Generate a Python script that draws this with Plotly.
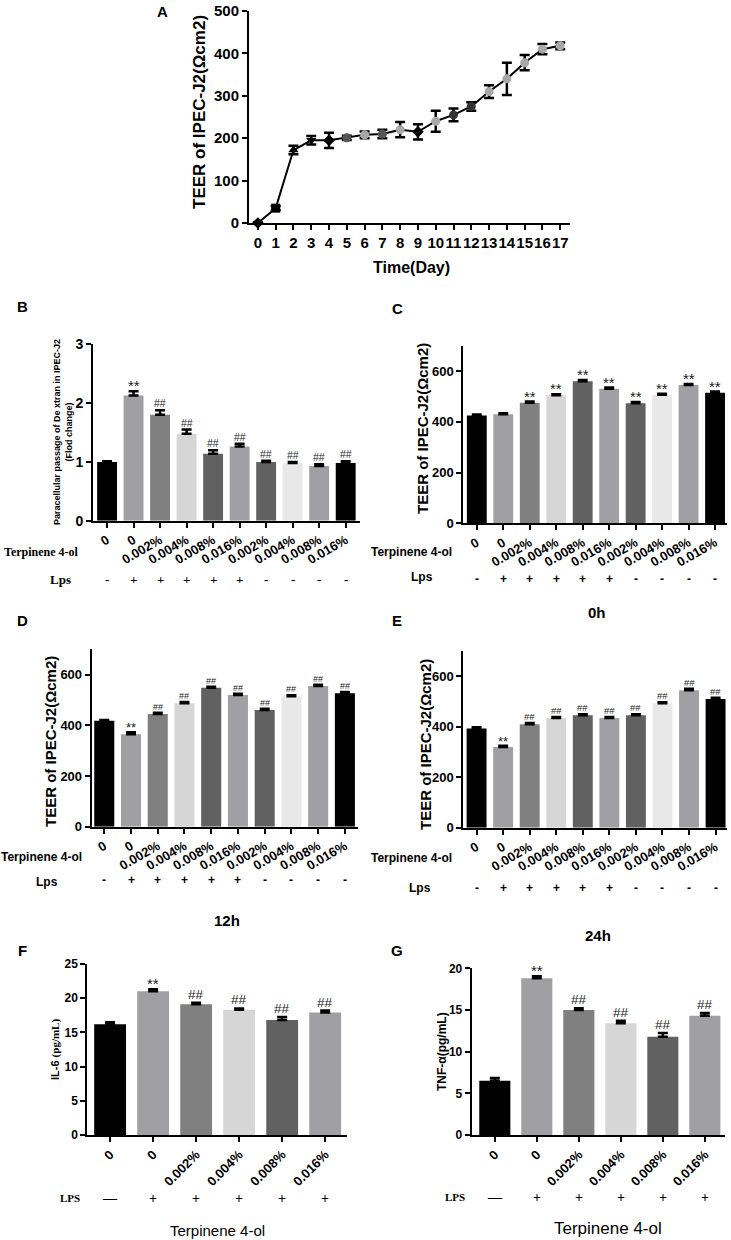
import plotly.graph_objects as go

W, H = 731, 1240

# ---- data ----
days = list(range(18))
teer_days = [0, 35, 172, 195, 195, 201, 208, 210, 220, 215, 240, 255, 275, 310, 340, 378, 410, 418]
teer_days_err = [2, 5, 10, 10, 18, 5, 8, 10, 18, 18, 25, 15, 10, 15, 38, 18, 12, 8]
day_symbols = ["diamond", "square", "triangle-up", "triangle-down", "diamond", "circle",
               "circle", "circle", "circle", "diamond", "circle", "circle", "circle",
               "circle", "circle", "circle", "circle", "circle"]
day_colors = ["black", "black", "black", "black", "black", "#555555", "#a8a8a8", "#555555",
              "#a8a8a8", "black", "#a8a8a8", "#333333", "#333333", "#a8a8a8", "#a8a8a8",
              "#a8a8a8", "#a8a8a8", "#a8a8a8"]

groups10 = ["0", "0", "0.002%", "0.004%", "0.008%", "0.016%", "0.002%", "0.004%", "0.008%", "0.016%"]
lps10 = ["-", "+", "+", "+", "+", "+", "-", "-", "-", "-"]
colors10 = ["#000000", "#a0a0a4", "#808080", "#d6d6d6", "#616161",
            "#a0a0a4", "#616161", "#e8e8e8", "#a0a0a4", "#000000"]

dextran = [1.0, 2.13, 1.80, 1.48, 1.14, 1.26, 1.00, 0.98, 0.93, 0.98]
dextran_err = [0.01, 0.07, 0.08, 0.07, 0.06, 0.05, 0.02, 0.02, 0.03, 0.03]
dextran_sig = ["", "**", "##", "##", "##", "##", "##", "##", "##", "##"]

teer_0h = [425, 430, 475, 505, 560, 530, 473, 507, 545, 515]
teer_0h_err = [4, 4, 5, 4, 5, 5, 5, 4, 4, 4]
teer_0h_sig = ["", "", "**", "**", "**", "**", "**", "**", "**", "**"]

teer_12h = [418, 365, 445, 487, 548, 520, 460, 515, 555, 527]
teer_12h_err = [3, 8, 5, 5, 4, 5, 5, 4, 5, 5]
teer_12h_sig = ["", "**", "##", "##", "##", "##", "##", "##", "##", "##"]

teer_24h = [393, 320, 410, 435, 445, 435, 445, 493, 545, 510]
teer_24h_err = [5, 5, 5, 4, 4, 4, 4, 4, 5, 5]
teer_24h_sig = ["", "**", "##", "##", "##", "##", "##", "##", "##", "##"]

groups6 = ["0", "0", "0.002%", "0.004%", "0.008%", "0.016%"]
lps6 = ["\u2014", "+", "+", "+", "+", "+"]
colors6 = ["#000000", "#a0a0a4", "#808080", "#d6d6d6", "#616161", "#a0a0a4"]

il6 = [16.2, 21.0, 19.1, 18.3, 16.8, 17.9]
il6_err = [0.3, 0.3, 0.25, 0.2, 0.45, 0.3]
il6_sig = ["", "**", "##", "##", "##", "##"]

tnf = [6.5, 18.8, 15.0, 13.4, 11.8, 14.3]
tnf_err = [0.35, 0.25, 0.2, 0.3, 0.45, 0.35]
tnf_sig = ["", "**", "##", "##", "##", "##"]

ARIAL = "Liberation Sans, Arial"
TIMES = "Liberation Serif, Times New Roman"


def px(x):
    return x / W


def py(y):
    return 1 - y / H


def xaxis(x0, x1, rng, anchor, tickvals, ticktext, angle, fs):
    return dict(domain=[px(x0), px(x1)], range=rng, anchor=anchor,
                tickmode="array", tickvals=tickvals, ticktext=ticktext, tickangle=angle,
                showline=True, linecolor="black", linewidth=2, ticks="outside",
                ticklen=5, tickwidth=2, tickcolor="black", showgrid=False, zeroline=False,
                automargin=False,
                tickfont=dict(family=ARIAL, size=fs, color="black", weight="bold"))


def yaxis(y0, y1, rng, anchor, tickvals, fs):
    return dict(domain=[py(y0), py(y1)], range=rng, anchor=anchor,
                tickmode="array", tickvals=tickvals,
                showline=True, linecolor="black", linewidth=2, ticks="outside",
                ticklen=5, tickwidth=2, tickcolor="black", showgrid=False, zeroline=False,
                automargin=False,
                tickfont=dict(family=ARIAL, size=fs, color="black", weight="bold"))


fig = go.Figure()
annotations = []


def note(text, x, y, size, family=ARIAL, bold=True, angle=0, xref="paper"):
    annotations.append(dict(text=text, x=x if xref != "paper" else px(x), y=py(y),
                            xref=xref, yref="paper", showarrow=False, textangle=angle,
                            xanchor="center", yanchor="middle",
                            font=dict(family=family, size=size, color="black",
                                      weight="bold" if bold else "normal")))


# ---- panel A ----
fig.add_trace(go.Scatter(
    x=days, y=teer_days, mode="lines+markers", xaxis="x", yaxis="y",
    line=dict(color="black", width=2),
    marker=dict(symbol=day_symbols, color=day_colors, size=9),
    error_y=dict(type="data", array=teer_days_err, color="black", thickness=2.5, width=5),
    cliponaxis=False, showlegend=False))

layout = dict(
    xaxis=xaxis(249, 570, [-0.5, 17.55], "y", days, [str(d) for d in days], 0, 15),
    yaxis=yaxis(223, 11, [0, 500], "x", [0, 100, 200, 300, 400, 500], 15),
)
note("TEER of IPEC-J2(\u03a9cm2)", 199, 112, 17, angle=-90)
note("Time(Day)", 411, 267, 16)
note("A", 162, 12, 15)


def bar_panel(n, values, errs, sigs, labels, colors, xdom, ydom, xr, yr, yticks,
              angle, tickfs, star_fs, hash_fs, width):
    xa = "x%d" % n
    ya = "y%d" % n
    idx = list(range(len(values)))
    fig.add_trace(go.Bar(
        x=idx, y=values, xaxis=xa, yaxis=ya, width=width,
        marker=dict(color=colors, line=dict(width=0)),
        error_y=dict(type="data", symmetric=False, array=errs, arrayminus=[0] * len(errs),
                     color="black", thickness=2.5, width=5),
        showlegend=False))
    for i, s in enumerate(sigs):
        if not s:
            continue
        star = s == "**"
        annotations.append(dict(
            text=s, x=i, y=values[i] + errs[i], xref=xa, yref=ya, showarrow=False,
            xanchor="center", yanchor="bottom", yshift=-5 if star else -1,
            font=dict(family=ARIAL, size=star_fs if star else hash_fs, color="#222222")))
    layout["xaxis%d" % n] = xaxis(xdom[0], xdom[1], xr, ya, idx, labels, angle, tickfs)
    layout["yaxis%d" % n] = yaxis(ydom[0], ydom[1], yr, xa, yticks, 13)
    return xa


# ---- panel B ----
xb = bar_panel(2, dextran, dextran_err, dextran_sig, groups10, colors10,
               (93, 360), (520.7, 344.3), [-0.53, 9.54], [0, 3], [0, 1, 2, 3],
               -30, 13, 15, 10.5, 0.75)
layout["yaxis2"]["tickfont"]["size"] = 14
note("B", 22, 306, 15)
note("Paracellular passage of De xtran in IPEC-J2<br>(Flod change)", 63, 432, 9, angle=-90)
note("Terpinene 4-ol", 41, 552, 12, family=TIMES)
note("Lps", 60, 579, 13, family=TIMES)
for i, s in enumerate(lps10):
    note(s, i, 579, 13, family=TIMES, xref=xb)

# ---- panel C ----
xc = bar_panel(3, teer_0h, teer_0h_err, teer_0h_sig, groups10, colors10,
               (463.3, 726.7), (523.3, 345.7), [-0.51, 9.44], [0, 700], [0, 200, 400, 600],
               -30, 13, 15, 11, 0.75)
note("C", 397, 308, 15)
note("TEER of IPEC-J2(\u03a9cm2)", 422, 429, 15, angle=-90)
note("Terpinene 4-ol", 411, 552, 12)
note("Lps", 422, 577, 12)
for i, s in enumerate(lps10):
    note(s, i, 579, 12, xref=xc)
note("0h", 597, 612, 15)

# ---- panel D ----
xd = bar_panel(4, teer_12h, teer_12h_err, teer_12h_sig, groups10, colors10,
               (91.7, 358), (826.7, 649.3), [-0.47, 9.49], [0, 700], [0, 200, 400, 600],
               -30, 13, 13, 9, 0.75)
note("D", 22, 620, 15)
note("TEER of IPEC-J2(\u03a9cm2)", 50, 742, 15, angle=-90)
note("Terpinene 4-ol", 41, 857, 12)
note("Lps", 47, 882, 12)
for i, s in enumerate(lps10):
    note(s, i, 880, 12, xref=xd)
note("12h", 227, 920, 15)

# ---- panel E ----
xe = bar_panel(5, teer_24h, teer_24h_err, teer_24h_sig, groups10, colors10,
               (463.3, 727), (827.7, 651), [-0.5, 9.43], [0, 700], [0, 200, 400, 600],
               -30, 13, 13, 9.5, 0.75)
note("E", 397, 620, 15)
note("TEER of IPEC-J2(\u03a9cm2)", 425, 745, 15, angle=-90)
note("Terpinene 4-ol", 411, 858, 12)
note("Lps", 420, 888, 12)
for i, s in enumerate(lps10):
    note(s, i, 888, 12, xref=xe)
note("24h", 598, 935, 15)

# ---- panel F ----
xf = bar_panel(6, il6, il6_err, il6_sig, groups6, colors6,
               (87.3, 346.7), (1135, 964), [-0.53, 5.5], [0, 25], [0, 5, 10, 15, 20, 25],
               -45, 13, 15, 13.5, 0.74)
layout["yaxis6"]["tickfont"]["size"] = 12
note("F", 22, 950, 15)
note("IL-6 <span style=\"font-family:Liberation Serif\">(pg/mL)</span>", 55, 1050, 11, angle=-90)
note("LPS", 70, 1198, 11, family=TIMES)
for i, s in enumerate(lps6):
    note(s, i, 1198, 14, family=TIMES, xref=xf)
note("Terpinene 4-ol", 217, 1230, 15, bold=False)

# ---- panel G ----
xg = bar_panel(7, tnf, tnf_err, tnf_sig, groups6, colors6,
               (471.7, 725), (1135, 968.3), [-0.55, 5.48], [0, 20], [0, 5, 10, 15, 20],
               -45, 13, 15, 13.5, 0.74)
layout["yaxis7"]["tickfont"]["size"] = 12
note("G", 397, 950, 15)
note("TNF-\u03b1(pg/mL)", 442, 1052, 12, angle=-90)
note("LPS", 455, 1197, 11, family=TIMES)
for i, s in enumerate(lps6):
    note(s, i, 1197, 14, family=TIMES, xref=xg)
note("Terpinene 4-ol", 608, 1228, 17, bold=False)

fig.update_layout(
    width=W, height=H, margin=dict(l=0, r=0, t=0, b=0, autoexpand=False),
    paper_bgcolor="white", plot_bgcolor="white",
    annotations=annotations, **layout)

fig.write_html("out.html", config={"displayModeBar": False},
               post_script="document.body.style.margin='0';document.body.style.overflow='hidden';")
